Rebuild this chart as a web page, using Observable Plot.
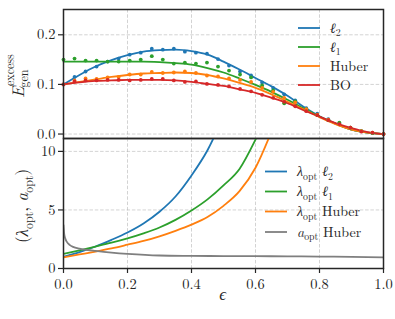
<!DOCTYPE html>
<html>
<head>
<meta charset="utf-8">
<script src="https://cdn.jsdelivr.net/npm/d3@7"></script>
<script src="https://cdn.jsdelivr.net/npm/@observablehq/plot@0.6"></script>
<style>
  body { margin: 0; background: white; }
  #chart { position: relative; width: 395px; height: 319px; }
  #chart svg { display: block; }
  #chart svg, #chart svg text, #chart svg tspan { font-family: 'Latin Modern Roman', 'Times New Roman', serif !important; }
</style>
</head>
<body>
<div id="chart"></div>
<script>
// ---------- data ----------
const seriesTop = ["ℓ2", "ℓ1", "Huber", "BO"];
const colorsTop = ["#1f77b4", "#2ca02c", "#ff7f0e", "#d62728"];

const epsLine = [0, 0.05, 0.1, 0.15, 0.2, 0.25, 0.3, 0.35, 0.4, 0.45, 0.5, 0.55, 0.6, 0.65, 0.7, 0.75, 0.8, 0.85, 0.9, 0.95, 1];
const l2Line    = [0.100, 0.119, 0.136, 0.149, 0.159, 0.166, 0.169, 0.170, 0.167, 0.160, 0.146, 0.130, 0.113, 0.096, 0.077, 0.055, 0.036, 0.021, 0.009, 0.003, 0.000];
const l1Line    = [0.146, 0.146, 0.146, 0.146, 0.146, 0.146, 0.145, 0.143, 0.140, 0.133, 0.124, 0.112, 0.099, 0.085, 0.069, 0.052, 0.035, 0.021, 0.009, 0.003, 0.000];
const huberLine = [0.100, 0.105, 0.110, 0.115, 0.119, 0.122, 0.123, 0.124, 0.123, 0.119, 0.112, 0.103, 0.093, 0.080, 0.065, 0.050, 0.034, 0.020, 0.009, 0.003, 0.000];
const boLine    = [0.100, 0.104, 0.107, 0.108, 0.109, 0.109, 0.109, 0.108, 0.105, 0.101, 0.097, 0.090, 0.083, 0.073, 0.062, 0.048, 0.035, 0.022, 0.012, 0.004, 0.000];

const epsDots = [0, 0.0345, 0.069, 0.1034, 0.1379, 0.1724, 0.2069, 0.2414, 0.2759, 0.3103, 0.3448, 0.3793, 0.4138, 0.4483, 0.4828, 0.5172, 0.5517, 0.5862, 0.6207, 0.6552, 0.6897, 0.7241, 0.7586, 0.7931, 0.8276, 0.8621, 0.8966, 0.931, 0.9655, 1];
const l2Dots    = [0.100, 0.115, 0.126, 0.136, 0.146, 0.152, 0.160, 0.164, 0.172, 0.170, 0.172, 0.166, 0.164, 0.162, 0.151, 0.138, 0.126, 0.118, 0.104, 0.093, 0.080, 0.068, 0.052, 0.041, 0.030, 0.021, 0.013, 0.006, 0.002, 0.000];
const l1Dots    = [0.150, 0.152, 0.148, 0.148, 0.146, 0.146, 0.148, 0.150, 0.157, 0.150, 0.142, 0.144, 0.142, 0.144, 0.136, 0.128, 0.120, 0.114, 0.098, 0.088, 0.062, 0.066, 0.050, 0.038, 0.028, 0.023, 0.013, 0.006, 0.002, 0.000];
const huberDots = [0.100, 0.108, 0.112, 0.111, 0.114, 0.115, 0.120, 0.120, 0.125, 0.123, 0.124, 0.126, 0.123, 0.118, 0.116, 0.112, 0.109, 0.105, 0.093, 0.085, 0.073, 0.064, 0.050, 0.039, 0.029, 0.019, 0.013, 0.006, 0.003, 0.000];
const boDots    = [0.100, 0.106, 0.108, 0.108, 0.109, 0.109, 0.108, 0.109, 0.111, 0.111, 0.108, 0.105, 0.106, 0.101, 0.099, 0.096, 0.091, 0.086, 0.079, 0.073, 0.065, 0.056, 0.046, 0.038, 0.028, 0.020, 0.013, 0.005, 0.003, 0.000];

const seriesBottom = ["λopt ℓ2", "λopt ℓ1", "λopt Huber", "aopt Huber"];
const colorsBottom = ["#1f77b4", "#2ca02c", "#ff7f0e", "#7f7f7f"];

const epsLamL2 = [0, 0.05, 0.1, 0.15, 0.2, 0.25, 0.3, 0.35, 0.4, 0.45, 0.5];
const lamL2    = [1.00, 1.40, 1.88, 2.45, 3.08, 3.85, 4.85, 6.15, 7.95, 10.1, 13.0];
const epsLamL1 = [0, 0.05, 0.1, 0.15, 0.2, 0.25, 0.3, 0.35, 0.4, 0.45, 0.5, 0.55, 0.6, 0.65];
const lamL1    = [1.25, 1.55, 1.87, 2.20, 2.57, 3.00, 3.50, 4.15, 4.95, 5.90, 7.10, 8.50, 11.0, 14.0];
const epsLamHu = [0, 0.05, 0.1, 0.15, 0.2, 0.25, 0.3, 0.35, 0.4, 0.45, 0.5, 0.55, 0.6, 0.65];
const lamHuber = [0.95, 1.20, 1.45, 1.72, 2.03, 2.35, 2.75, 3.22, 3.75, 4.40, 5.35, 6.60, 8.60, 11.7];
const epsAHu   = [0, 0.002, 0.005, 0.01, 0.02, 0.03, 0.05, 0.075, 0.1, 0.15, 0.2, 0.3, 0.4, 0.5, 0.6, 0.7, 0.8, 0.9, 1.0];
const aHuber   = [3.70, 3.00, 2.60, 2.30, 2.00, 1.85, 1.70, 1.58, 1.50, 1.36, 1.25, 1.11, 1.08, 1.06, 1.05, 1.04, 1.02, 1.00, 0.95];

const xTicks = [0, 0.2, 0.4, 0.6, 0.8, 1.0];
const yTicksTop = [0, 0.1, 0.2];
const yTicksBottom = [0, 5, 10];

// ---------- tables ----------
const topLines = [];
[l2Line, l1Line, huberLine, boLine].forEach((arr, i) =>
  arr.forEach((v, j) => topLines.push({eps: epsLine[j], E: v, s: seriesTop[i]})));
const topDots = [];
[l2Dots, l1Dots, huberDots, boDots].forEach((arr, i) =>
  arr.forEach((v, j) => topDots.push({eps: epsDots[j], E: v, s: seriesTop[i]})));
const botLines = [];
[[epsLamL2, lamL2], [epsLamL1, lamL1], [epsLamHu, lamHuber], [epsAHu, aHuber]].forEach(([xs, ys], i) =>
  ys.forEach((v, j) => botLines.push({eps: xs[j], v, s: seriesBottom[i]})));

const FONT = "'Latin Modern Roman', 'Times New Roman', serif";
const INK = "#262626";
const gridStyle = {stroke: "#b0b0b0", strokeOpacity: 0.7, strokeWidth: 0.8, strokeDasharray: "3.5,1.8"};

const topPlot = Plot.plot({
  width: 395, height: 138,
  marginTop: 9, marginBottom: 0, marginLeft: 63, marginRight: 12,
  style: {fontFamily: FONT, fontSize: "14.5px", color: INK, background: "transparent", overflow: "visible"},
  x: {domain: [0, 1], axis: null},
  y: {domain: [-0.009, 0.251]},
  color: {domain: seriesTop, range: colorsTop},
  marks: [
    Plot.gridX(xTicks.slice(1, -1), gridStyle),
    Plot.gridY(yTicksTop, gridStyle),
    Plot.line(topLines, {x: "eps", y: "E", stroke: "s", z: "s", strokeWidth: 1.8, curve: "monotone-x"}),
    Plot.dot(topDots, {x: "eps", y: "E", fill: "s", r: 1.9, stroke: null}),
    Plot.axisY({ticks: yTicksTop, tickFormat: d3.format(".1f"), tickSize: 5, tickPadding: 3, label: null, fontSize: 14.5, strokeWidth: 1.2}),
    Plot.frame({stroke: INK, strokeWidth: 1.5})
  ]
});

const bottomPlot = Plot.plot({
  width: 395, height: 181,
  marginTop: 0, marginBottom: 51, marginLeft: 63, marginRight: 12,
  style: {fontFamily: FONT, fontSize: "14.5px", color: INK, background: "transparent", overflow: "visible"},
  x: {domain: [0, 1]},
  y: {domain: [0, 11.1]},
  color: {domain: seriesBottom, range: colorsBottom},
  marks: [
    Plot.gridX(xTicks.slice(1, -1), gridStyle),
    Plot.gridY(yTicksBottom, gridStyle),
    Plot.line(botLines, {x: "eps", y: "v", stroke: "s", z: "s", strokeWidth: 1.8, curve: "monotone-x", clip: true}),
    Plot.axisX({ticks: xTicks, tickFormat: d3.format(".1f"), tickSize: 5, tickPadding: 5, label: null, fontSize: 14.5, strokeWidth: 1.2}),
    Plot.axisY({ticks: yTicksBottom, tickSize: 5, tickPadding: 3, label: null, fontSize: 14.5, strokeWidth: 1.2}),
    Plot.frame({stroke: INK, strokeWidth: 1.5})
  ]
});

const chart = document.getElementById("chart");
chart.appendChild(topPlot);
chart.appendChild(bottomPlot);

// ---------- rich text helper ----------
function rich(sel, parts, size) {
  let shift = 0;
  parts.forEach(p => {
    const ts = sel.append("tspan").text(p.t);
    const target = p.sub ? size * 0.28 : p.sup ? -size * 0.45 : 0;
    if (target - shift !== 0) ts.attr("dy", target - shift);
    shift = target;
    if (p.sub || p.sup) ts.attr("font-size", size * 0.7);
    if (p.it) ts.attr("font-style", "italic");
  });
}

function legend(svg, labels, colors, x0, x1, xt, ys, size) {
  const g = d3.select(svg).append("g").attr("fill", INK).attr("text-anchor", "start");
  labels.forEach((parts, i) => {
    g.append("line").attr("x1", x0).attr("x2", x1).attr("y1", ys[i]).attr("y2", ys[i])
      .attr("stroke", colors[i]).attr("stroke-width", 1.8);
    const t = g.append("text").attr("x", xt).attr("y", ys[i] + 4.5).attr("font-size", size)
      .attr("text-anchor", "start");
    rich(t, parts, size);
  });
}

legend(topPlot, [
  [{t: "ℓ", it: true}, {t: "2", sub: true}],
  [{t: "ℓ", it: true}, {t: "1", sub: true}],
  [{t: "Huber"}],
  [{t: "BO"}]
], colorsTop, 298, 320, 330, [28, 47, 66, 85], 14);

legend(bottomPlot, [
  [{t: "λ", it: true}, {t: "opt", sub: true}, {t: " ℓ", it: true}, {t: "2", sub: true}],
  [{t: "λ", it: true}, {t: "opt", sub: true}, {t: " ℓ", it: true}, {t: "1", sub: true}],
  [{t: "λ", it: true}, {t: "opt", sub: true}, {t: " Huber"}],
  [{t: "a", it: true}, {t: "opt", sub: true}, {t: " Huber"}]
], colorsBottom, 265, 287, 297, [33.5, 53.5, 73.5, 94], 14);

// ---------- axis labels ----------
{
  const g = d3.select(topPlot).append("g").attr("fill", INK).attr("text-anchor", "start")
    .attr("transform", "translate(24,98) rotate(-90)");
  const e = g.append("text").attr("x", 0).attr("y", 0).attr("font-size", 17).attr("font-style", "italic")
    .attr("text-anchor", "start").text("E");
  const ew = e.node().getComputedTextLength();
  g.append("text").attr("x", ew + 0.5).attr("y", -10).attr("font-size", 12).attr("text-anchor", "start").text("excess");
  g.append("text").attr("x", ew - 1).attr("y", 3.5).attr("font-size", 12).attr("text-anchor", "start").text("gen");
}
{
  const t = d3.select(bottomPlot).append("text").attr("fill", INK)
    .attr("font-size", 17).attr("text-anchor", "middle")
    .attr("transform", "translate(28,68) rotate(-90)");
  rich(t, [{t: "("}, {t: "λ", it: true}, {t: "opt", sub: true}, {t: ", "}, {t: "a", it: true}, {t: "opt", sub: true}, {t: ")"}], 17);
}
d3.select(bottomPlot).append("text").attr("fill", INK)
  .attr("font-size", 17).attr("font-style", "italic").attr("text-anchor", "middle")
  .attr("x", 222.8).attr("y", 162).text("ϵ");
</script>
</body>
</html>
